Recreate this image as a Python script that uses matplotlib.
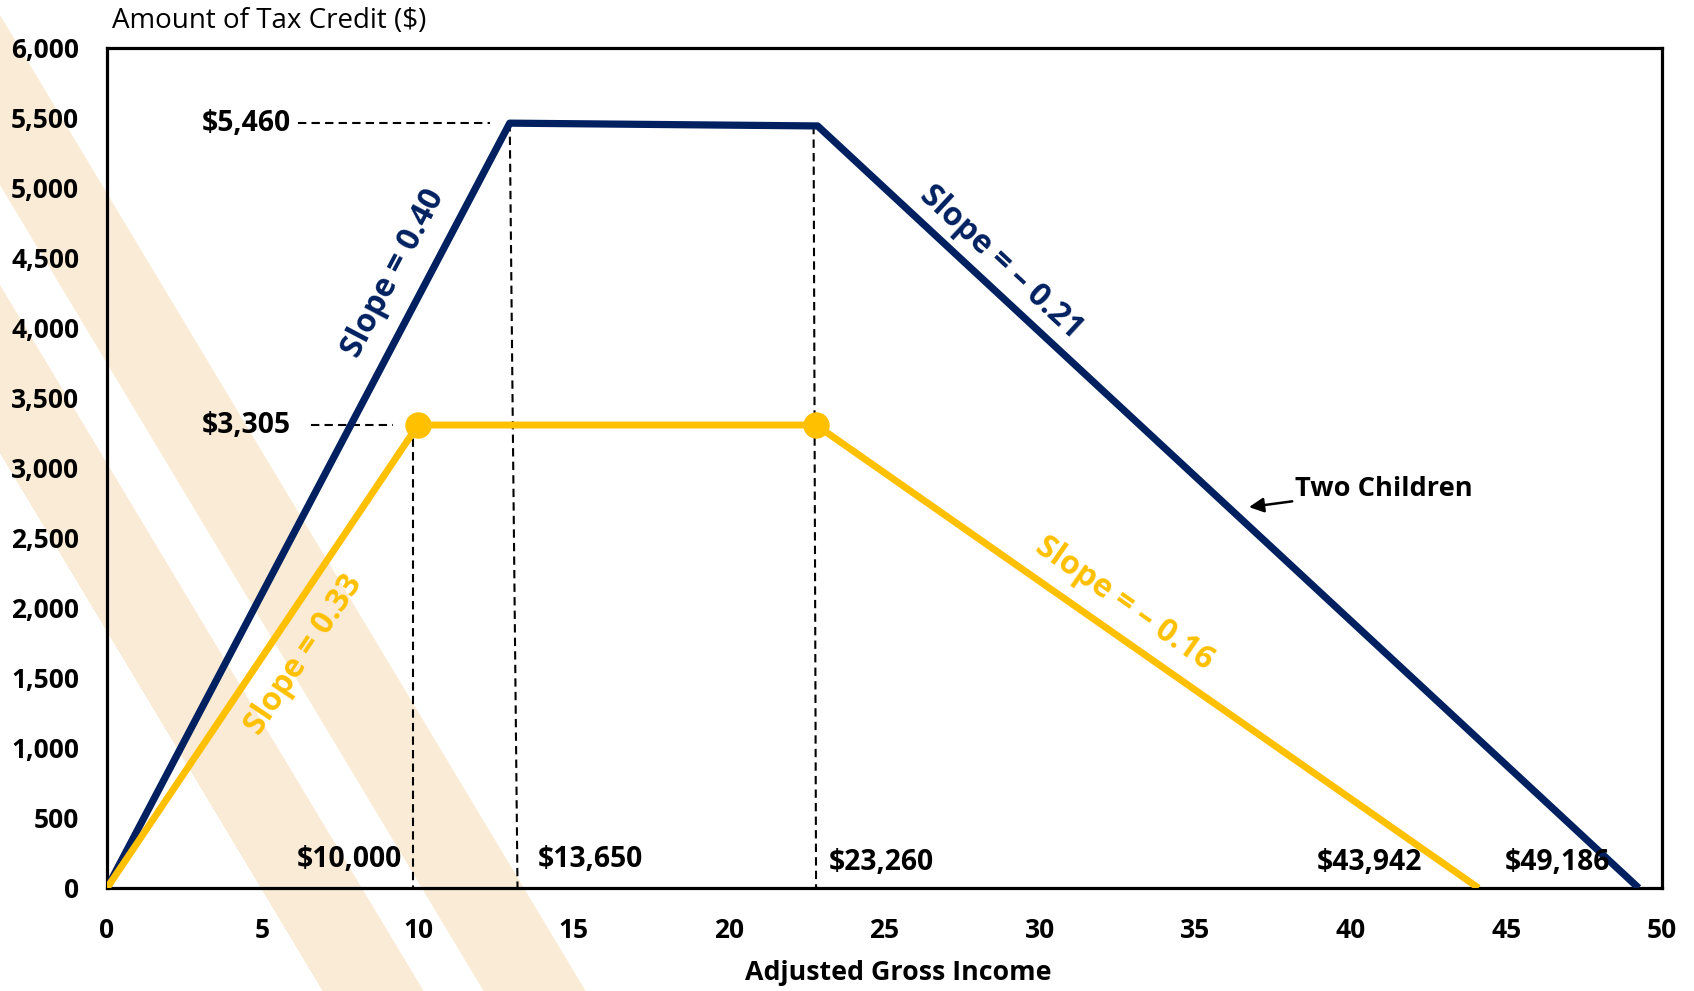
import numpy as np
import matplotlib
matplotlib.use("Agg")
import matplotlib.pyplot as plt
from matplotlib.patches import Polygon

plt.rcParams['font.family'] = ['Open Sans', 'DejaVu Sans']

# --- data (income in $1,000, credit in $) ---
agi_two = [0, 12.95, 22.85, 49.25]
credit_two = [0, 5460, 5440, 0]
agi_one = [0, 10, 22.8, 44.1]
credit_one = [0, 3305, 3305, 0]

x_ticks = list(range(0, 51, 5))
y_ticks = list(range(0, 6001, 500))

slope_text = ["Slope = 0.40", "Slope = 0.33", "Slope = \u2013 0.21", "Slope = \u2013 0.16"]
income_marks = ["$10,000", "$13,650", "$23,260", "$43,942", "$49,186"]
credit_marks = ["$5,460", "$3,305"]

NAVY = '#002060'
GOLD = '#FFC000'
BAND = '#FAEBD7'

W, H = 1694, 991
fig = plt.figure(figsize=(W / 100, H / 100), dpi=100)
fig.patch.set_facecolor('white')
ax = fig.add_axes([107 / W, 1 - 888 / H, 1555 / W, 840.5 / H])
ax.set_facecolor('none')

# diagonal background bands (pixel coords, y from top)
for l0, r0 in [(-272, -171), (-111, -9)]:
    y0, y1 = -20, H + 20
    pts = [(l0 + 0.6 * y0, y0), (r0 + 0.6 * y0, y0),
           (r0 + 0.6 * y1, y1), (l0 + 0.6 * y1, y1)]
    fig.patches.append(Polygon([(px / W, 1 - py / H) for px, py in pts], closed=True,
                               transform=fig.transFigure, facecolor=BAND,
                               edgecolor='none', zorder=-5))

ax.set_xlim(0, 50)
ax.set_ylim(0, 6000)

# guide lines
dash = (0, (4, 2.5))
ax.plot([6.15, 12.3], [credit_two[1], credit_two[1]], color='black', lw=1.5, ls=dash, zorder=2)
ax.plot([6.55, 9.2], [credit_one[1], credit_one[1]], color='black', lw=1.5, ls=dash, zorder=2)
ax.plot([9.83, 9.83], [credit_one[1], 0], color='black', lw=1.5, ls=dash, zorder=2)
ax.plot([agi_two[1], 13.2], [credit_two[1], 0], color='black', lw=1.5, ls=dash, zorder=2)
ax.plot([22.72, 22.8], [credit_two[2], 0], color='black', lw=1.5, ls=dash, zorder=2)

ax.plot(agi_two, credit_two, color=NAVY, lw=5.2, solid_capstyle='butt', zorder=3)
ax.plot(agi_one, credit_one, color=GOLD, lw=5, solid_capstyle='butt', zorder=3)
ax.plot(agi_one[1:3], credit_one[1:3], 'o', color=GOLD, ms=18, zorder=4)


def angle(xa, ya, xb, yb):
    p0 = ax.transData.transform((xa, ya))
    p1 = ax.transData.transform((xb, yb))
    return np.degrees(np.arctan2(p1[1] - p0[1], p1[0] - p0[0]))


slope_spec = [
    (9.2, 4390, NAVY, angle(agi_two[0], credit_two[0], agi_two[1], credit_two[1])),
    (6.32, 1667, GOLD, angle(agi_one[0], credit_one[0], agi_one[1], credit_one[1])),
    (28.75, 4468, NAVY, angle(agi_two[2], credit_two[2], agi_two[3], credit_two[3])),
    (32.7, 2034, GOLD, angle(agi_one[2], credit_one[2], agi_one[3], credit_one[3])),
]
for txt, (sx, sy, c, rot) in zip(slope_text, slope_spec):
    ax.text(sx, sy, txt, color=c, fontsize=23, fontweight='bold', rotation=rot,
            rotation_mode='anchor', ha='center', va='center', zorder=5)

# value labels
lab = dict(fontsize=20.3, fontweight='bold', va='center')
ax.text(5.9, credit_two[1], credit_marks[0], ha='right', **lab)
ax.text(5.9, credit_one[1], credit_marks[1], ha='right', **lab)
ax.text(9.49, 207, income_marks[0], ha='right', **lab)
ax.text(13.86, 207, income_marks[1], ha='left', **lab)
ax.text(23.2, 185, income_marks[2], ha='left', **lab)
ax.text(40.6, 185, income_marks[3], ha='center', **lab)
ax.text(46.65, 185, income_marks[4], ha='center', **lab)

ax.annotate("Two Children", xy=(36.72, 2719), xytext=(38.2, 2848),
            fontsize=19.6, fontweight='bold', ha='left', va='center',
            arrowprops=dict(arrowstyle='-|>', color='black', lw=1.8, mutation_scale=22,
                            shrinkA=0, shrinkB=0))

ax.set_xticks(x_ticks, [str(v) for v in x_ticks], fontweight='bold')
ax.set_yticks(y_ticks, [f"{v:,}" for v in y_ticks], fontweight='bold')
ax.tick_params(axis='both', length=0, labelsize=19)
ax.tick_params(axis='x', pad=21)
ax.tick_params(axis='y', pad=20)
for sp in ax.spines.values():
    sp.set_linewidth(2.3)
    sp.set_color('black')

ax.set_xlabel("Adjusted Gross Income", fontsize=19.3, fontweight='bold')
ax.xaxis.set_label_coords(0.5087, -0.101)
ax.xaxis.label.set_va('center')
ax.set_ylabel("Amount of Tax Credit ($)", fontsize=20, rotation=0, ha='left', va='center')
ax.yaxis.set_label_coords(0.0032, 1.0315)

fig.savefig("out.png", dpi=100)
